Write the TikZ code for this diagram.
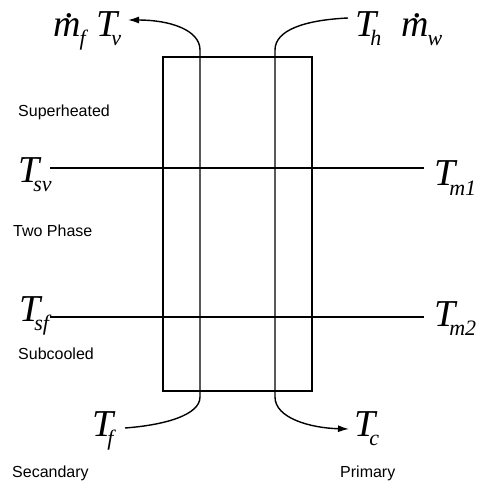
\documentclass[tikz,border=0pt]{standalone}
\usepackage{fontspec}
\setmainfont{Liberation Sans}
\newfontfamily\ser{Liberation Serif}
\usetikzlibrary{arrows.meta}
\newcommand\Tl[2][-6bp]{{\ser\itshape\fontsize{38bp}{38bp}\selectfont T\kern#1\raisebox{-9bp}{\fontsize{22bp}{22bp}\selectfont #2}}}
\newcommand\Ml[1]{{\ser\itshape\fontsize{38bp}{38bp}\selectfont\ooalign{m\cr\hidewidth\kern0.15em\raisebox{0.5em}{.}\hidewidth\cr}\kern-1bp\raisebox{-9bp}{\fontsize{22bp}{22bp}\selectfont #1}}}
\begin{document}
\begin{tikzpicture}[x=1bp,y=-1bp,
  ln/.style={line width=1.4bp,black},
  lab/.style={inner sep=0pt,anchor=base west},
  txt/.style={inner sep=0pt,anchor=base west,font=\fontsize{16bp}{18bp}\selectfont},
  tip/.style={-{Latex[length=11bp,width=7bp]}}]
\useasboundingbox (0,0) rectangle (480,482);
% box
\draw[ln] (163,57) rectangle (312,391);
% labels
\node[lab] (mf) at (53,37) {\Ml{f}};
\node[lab] (Tv) at (96,37) {\Tl{v}};
\node[lab] (Th) at (355,37) {\Tl{h}};
\node[lab] (mw) at (401,37) {\Ml{w}};
\node[lab] (Tsv) at (18,183) {\Tl{sv}};
\node[lab] (Tsf) at (19,321) {\Tl{sf}};
\node[lab] (Tm1) at (434,186) {\Tl{m1}};
\node[lab] (Tm2) at (434,326) {\Tl{m2}};
\node[lab] (Tf) at (92,436) {\Tl{f}};
\node[lab] (Tc) at (354,436) {\Tl{c}};
\node[txt] (sh) at (18,117) {Superheated};
\node[txt] (tp) at (13,236) {Two Phase};
\node[txt] (sc) at (18,359) {Subcooled};
\node[txt] (se) at (12,477) {Secandary};
\node[txt] (pr) at (340,477) {Primary};
% connector ends
\coordinate (tvend) at (128,20);
\coordinate (thend) at (348,18);
\coordinate (tfend) at (125,428);
\coordinate (tcend) at (349,429);
\coordinate (sv0) at (50,168);
\coordinate (sv1) at (424,168);
\coordinate (sf0) at (50,317);
\coordinate (sf1) at (424,317);
% horizontal lines
\draw[ln] (sv0) -- (sv1);
\draw[ln] (sf0) -- (sf1);
% secondary flow
\draw[ln,tip] (tfend) .. controls (165,425) and (200,415) .. (200,397) -- (200,50) .. controls (200,30) and (170,20) .. (tvend);
% primary flow
\draw[ln,tip] (thend) .. controls (305,20) and (275,30) .. (275,50) -- (275,397) .. controls (275,418) and (310,428) .. (tcend);
\end{tikzpicture}
\end{document}
